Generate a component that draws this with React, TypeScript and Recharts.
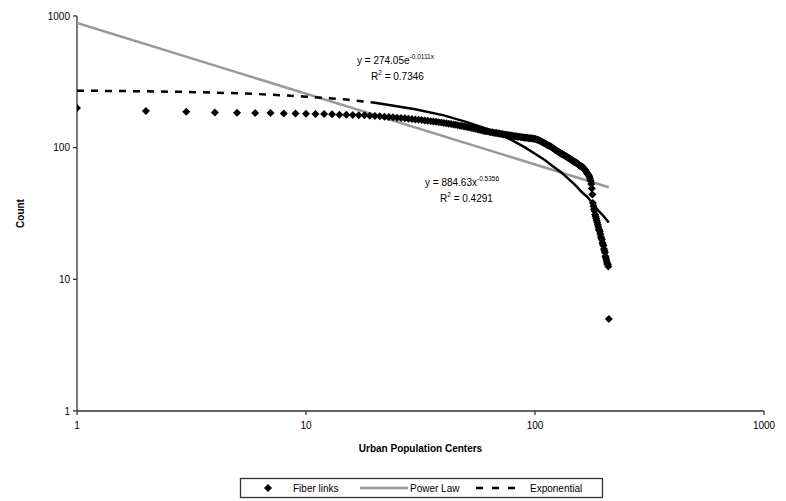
import { ScatterChart, Scatter, XAxis, YAxis } from "recharts"

// rank-ordered fiber link counts, rank 1..210
const fiberCounts = [
  200, 190, 187, 185, 184, 183, 183, 182, 182, 181,
  180, 180, 179, 178, 178, 177, 176, 176, 175, 174,
  173, 172, 171, 170, 169, 168, 167, 166, 165, 164,
  163, 162, 161, 160, 159, 158, 157, 156, 155, 154,
  153, 152, 151, 150, 149, 148, 147, 146, 145, 144,
  143, 142, 141, 140, 139, 138, 137, 136, 135, 134,
  133, 133, 132, 131, 131, 130, 129, 129, 128, 128,
  127, 127, 126, 126, 125, 125, 124, 124, 123, 123,
  122, 122, 122, 121, 121, 121, 120, 120, 120, 119,
  119, 119, 119, 118, 118, 118, 118, 117, 117, 117,
  116, 115, 115, 114, 113, 112, 111, 110, 109, 108,
  107, 106, 105, 104, 104, 103, 102, 101, 100, 99,
  98, 97, 96, 95, 94, 93, 93, 92, 91, 90,
  90, 89, 88, 88, 87, 86, 86, 85, 84, 84,
  83, 82, 82, 81, 80, 80, 79, 78, 78, 77,
  77, 76, 76, 75, 74, 74, 73, 73, 72, 72,
  71, 71, 70, 69, 68, 67, 66, 65, 64, 63,
  62, 61, 60, 58, 56, 53, 49, 44, 38, 36,
  34, 33, 31, 30, 29, 28, 27, 26, 25, 24,
  23.5, 23, 22, 21, 20.5, 20, 19, 18.5, 18, 17,
  16.5, 16, 15, 14.5, 14, 13.5, 13, 13, 12.5, 5,
]

// power law trendline end points
const powerX = [1, 210]
const powerY = [885, 50]

// exponential trendline, dashed part then near-solid part
const expDashX = [1, 2, 3, 5, 7, 10, 15, 20]
const expDashY = [271, 268, 265, 259, 253, 244, 232, 219]
const expSolidX = [20, 30, 40, 50, 60, 70, 80, 90, 100, 110, 120, 130, 140, 150, 160, 170, 180, 190, 200, 210]
const expSolidY = [219, 196, 176, 157, 141, 126, 113, 101, 90, 81, 72, 65, 58, 52, 46, 42, 37, 33, 30, 27]

const logTicks = [1, 10, 100, 1000]

const fiberData = fiberCounts.map((v, i) => ({ x: i + 1, y: v }))
const powerData = powerX.map((x, i) => ({ x, y: powerY[i] }))
const expDashData = expDashX.map((x, i) => ({ x, y: expDashY[i] }))
const expSolidData = expSolidX.map((x, i) => ({ x, y: expSolidY[i] }))

const font = "'Liberation Sans', Arial, sans-serif"
const tick = { fill: "#000", fontSize: 10, fontFamily: font }
const axisLine = { stroke: "#333", strokeWidth: 1.3 }

const Diamond = (p: any) => {
  const { cx, cy } = p
  if (cx == null || cy == null) return <g />
  const r = 4
  return <polygon points={`${cx},${cy - r} ${cx + r},${cy} ${cx},${cy + r} ${cx - r},${cy}`} fill="#000" />
}
const NoDot = () => <g />

export default function App() {
  return (
    <div style={{ position: "absolute", left: 0, top: 0, width: 786, height: 501, background: "#fff", fontFamily: font }}>
      <ScatterChart width={786} height={501} margin={{ top: 16, right: 22, left: 0, bottom: 60 }}>
        <XAxis
          type="number"
          dataKey="x"
          scale="log"
          domain={[1, 1000]}
          ticks={logTicks}
          allowDataOverflow
          height={30}
          tick={tick}
          tickSize={4}
          tickMargin={7}
          axisLine={axisLine}
          tickLine={axisLine}
          label={{ value: "Urban Population Centers", position: "bottom", offset: 4, style: { fontSize: 10, fontWeight: "bold", fill: "#000", fontFamily: font } }}
        />
        <YAxis
          type="number"
          dataKey="y"
          scale="log"
          domain={[1, 1000]}
          ticks={logTicks}
          allowDataOverflow
          width={77}
          tick={tick}
          tickSize={4}
          tickMargin={3}
          axisLine={axisLine}
          tickLine={axisLine}
          label={{ value: "Count", angle: -90, position: "insideLeft", offset: 20, style: { fontSize: 10, fontWeight: "bold", fill: "#000", fontFamily: font, textAnchor: "middle" } }}
        />
        <Scatter data={powerData} line={{ stroke: "#999", strokeWidth: 2.5 }} lineType="joint" shape={NoDot} isAnimationActive={false} />
        <Scatter data={expDashData} line={{ stroke: "#000", strokeWidth: 2.5, strokeDasharray: "7 7" }} lineType="joint" shape={NoDot} isAnimationActive={false} />
        <Scatter data={expSolidData} line={{ stroke: "#000", strokeWidth: 2.5 }} lineType="joint" shape={NoDot} isAnimationActive={false} />
        <Scatter data={fiberData} shape={Diamond} isAnimationActive={false} />
      </ScatterChart>

      <svg width={786} height={501} style={{ position: "absolute", left: 0, top: 0, pointerEvents: "none" }} fontFamily={font}>
        <text x={357} y={64} fontSize={10} fill="#000">
          y = 274.05e<tspan dy={-5} fontSize={6.5}>-0.0111x</tspan>
        </text>
        <text x={371} y={80} fontSize={10} fill="#000">
          R<tspan dy={-5} fontSize={6.5}>2</tspan><tspan dy={5}> = 0.7346</tspan>
        </text>
        <text x={425} y={186} fontSize={10} fill="#000">
          y = 884.63x<tspan dy={-5} fontSize={6.5}>-0.5356</tspan>
        </text>
        <text x={440} y={202} fontSize={10} fill="#000">
          R<tspan dy={-5} fontSize={6.5}>2</tspan><tspan dy={5}> = 0.4291</tspan>
        </text>

        <rect x={240.5} y={478.5} width={362} height={19} fill="#fff" stroke="#333" strokeWidth={1.3} />
        <polygon points="268,484 272,488 268,492 264,488" fill="#000" />
        <text x={293} y={492} fontSize={10} fill="#000">Fiber links</text>
        <line x1={360} y1={488} x2={408} y2={488} stroke="#999" strokeWidth={2.5} />
        <text x={410} y={492} fontSize={10} fill="#000">Power Law</text>
        <line x1={476} y1={488} x2={524} y2={488} stroke="#000" strokeWidth={2.5} strokeDasharray="7 9" />
        <text x={530} y={492} fontSize={10} fill="#000">Exponential</text>
      </svg>
    </div>
  )
}
